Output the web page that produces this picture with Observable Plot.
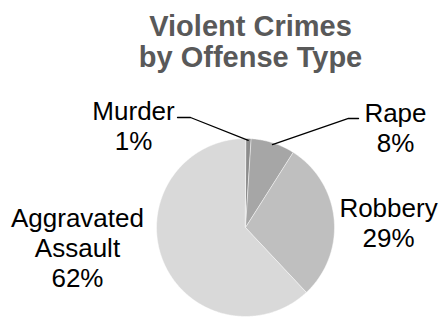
<!DOCTYPE html>
<html><head><meta charset="utf-8">
<script src="https://cdn.jsdelivr.net/npm/d3@7"></script>
<script src="https://cdn.jsdelivr.net/npm/@observablehq/plot@0.6"></script>
<style>body{margin:0;background:#fff} svg{display:block}</style>
</head><body><div id="chart"></div>
<script>
// ---- data ----
const categories = ["Murder", "Rape", "Robbery", "Aggravated Assault"];
const labelNames = ["Murder", "Rape", "Robbery", "Aggravated\nAssault"];
const shares = [1, 8, 29, 62];
const titleText = "Violent Crimes\nby Offense Type";

// ---- styles / layout (data units of the pie: radius = 1) ----
const colors = ["#8c8c8c", "#a6a6a6", "#bfbfbf", "#d9d9d9"];
const labelPos = {
  "Murder": {x: -1.258, y: 1.449},
  "Rape": {x: 1.685, y: 1.427},
  "Robbery": {x: 1.607, y: 0.360},
  "Aggravated Assault": {x: -1.888, y: 0.247}
};
const leaders = {
  "Murder": [{x: -0.618, y: 1.236}, {x: -0.764, y: 1.236}],
  "Rape": [{x: 1.157, y: 1.225}, {x: 1.270, y: 1.225}]
};

// ---- geometry from data ----
const pie = d3.pie().sort(null).value(d => d.share)(
  categories.map((name, i) => ({name, share: shares[i], label: labelNames[i]}))
);
const slicePts = [];
pie.forEach(p => {
  const name = p.data.name;
  slicePts.push({name, x: 0, y: 0});
  const n = Math.max(2, Math.ceil((p.endAngle - p.startAngle) / 0.01));
  for (let k = 0; k <= n; k++) {
    const a = p.startAngle + (p.endAngle - p.startAngle) * k / n;
    slicePts.push({name, x: Math.sin(a), y: Math.cos(a)});
  }
});
const leaderPts = [];
pie.forEach(p => {
  const name = p.data.name;
  if (!leaders[name]) return;
  const m = (p.startAngle + p.endAngle) / 2;
  leaderPts.push({name, x: 0.98 * Math.sin(m), y: 0.98 * Math.cos(m)});
  leaders[name].forEach(q => leaderPts.push({name, x: q.x, y: q.y}));
});
const labels = pie.map(p => ({
  text: `${p.data.label}\n${p.data.share}%`,
  x: labelPos[p.data.name].x,
  y: labelPos[p.data.name].y
}));

const font = "'Liberation Sans', Arial, sans-serif";
const chart = Plot.plot({
  width: 442,
  height: 318,
  margin: 0,
  style: {fontFamily: font, background: "white"},
  x: {domain: [-1, 1], range: [156, 334], axis: null},
  y: {domain: [-1, 1], range: [316, 138], axis: null},
  color: {domain: categories, range: colors},
  marks: [
    Plot.line(slicePts, {x: "x", y: "y", z: "name", fill: "name", stroke: "white", strokeWidth: 0.5, curve: "linear-closed"}),
    Plot.line(leaderPts, {x: "x", y: "y", z: "name", stroke: "black", strokeWidth: 1.3}),
    Plot.text(labels, {x: "x", y: "y", text: "text", fontSize: 26, lineHeight: 1.154, lineAnchor: "top", textAnchor: "middle", fill: "black", fontFamily: font}),
    Plot.text([titleText], {text: d => d, frameAnchor: "top", dx: 29, dy: 13, fontSize: 29, fontWeight: "bold", fill: "#595959", lineHeight: 1.07, lineAnchor: "top", fontFamily: font})
  ]
});
document.getElementById("chart").appendChild(chart);
</script>
</body></html>
